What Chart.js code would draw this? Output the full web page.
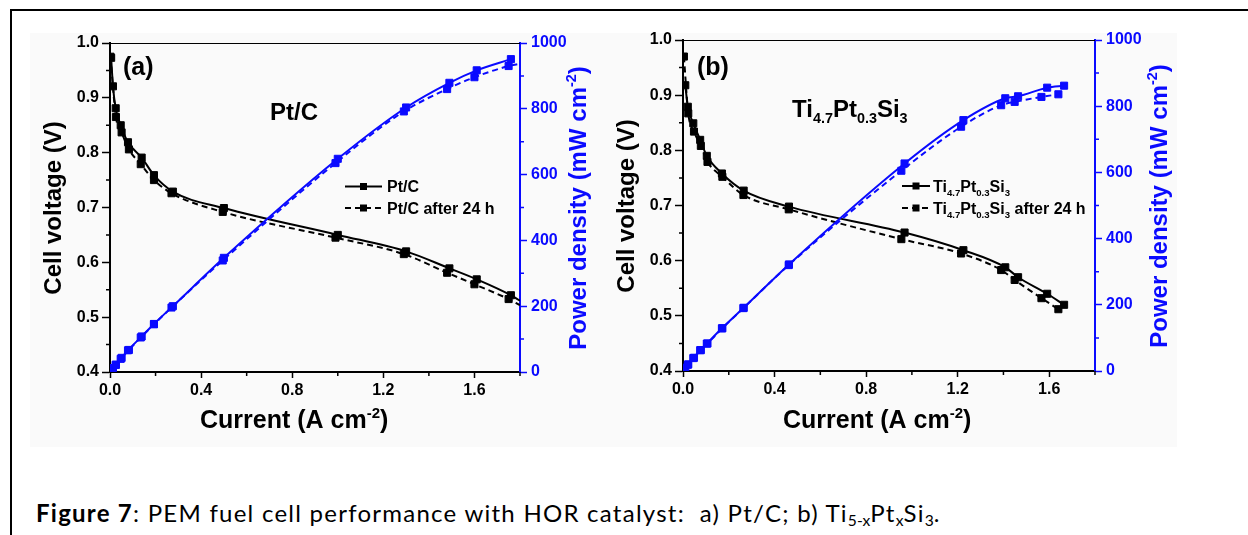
<!DOCTYPE html>
<html><head><meta charset="utf-8">
<script src="https://cdn.jsdelivr.net/npm/chart.js@4.4.1/dist/chart.umd.min.js"></script>
<style>
html,body{margin:0;padding:0;background:#fff;width:1248px;height:535px;overflow:hidden;position:relative}
#bg{position:absolute;left:30px;top:33px;width:1147px;height:414px;background:#fafafa}
#bt{position:absolute;left:10px;top:9px;width:1238px;height:2px;background:#000}
#bl{position:absolute;left:10px;top:9px;width:2px;height:526px;background:#000}
canvas{position:absolute;top:0}
#ca{left:0}
#cb{left:600px}
#cap{position:absolute;left:36px;top:498px;font-family:Lato,"Open Sans",sans-serif;font-size:24px;letter-spacing:1.25px;color:#000;white-space:nowrap}
#cap sub{font-size:65%;vertical-align:-0.25em;line-height:0;letter-spacing:0}
</style></head>
<body>
<div id="bg"></div><div id="bt"></div><div id="bl"></div>
<canvas id="ca" width="600" height="450"></canvas>
<canvas id="cb" width="648" height="450"></canvas>
<div id="cap"><b>Figure 7</b>: PEM fuel cell performance with HOR catalyst:&nbsp; a) Pt/C; b) Ti<sub>5-x</sub>Pt<sub>x</sub>Si<sub>3</sub>.</div>
<script>
// ---------- data ----------
const X_TICKS = [0.0, 0.4, 0.8, 1.2, 1.6];
const X_MINOR = [0.2, 0.6, 1.0, 1.4, 1.8];
const V_TICKS = [0.4, 0.5, 0.6, 0.7, 0.8, 0.9, 1.0];
const V_MINOR = [0.45, 0.55, 0.65, 0.75, 0.85, 0.95];
const P_TICKS = [0, 200, 400, 600, 800, 1000];
const P_MINOR = [100, 300, 500, 700, 900];

// Panel (a) Pt/C
const A_I_FRESH = [0.005, 0.013, 0.025, 0.047, 0.079, 0.139, 0.193, 0.276, 0.500, 1.000, 1.300, 1.490, 1.610, 1.760, 1.800];
const A_V_FRESH = [0.973, 0.921, 0.881, 0.850, 0.819, 0.791, 0.759, 0.729, 0.699, 0.650, 0.620, 0.589, 0.569, 0.540, 0.530];
const A_P_FRESH = [5, 12, 22, 40, 66, 108, 146, 200, 347, 648, 804, 879, 917, 951, null];
const A_I_AGED  = [0.002, 0.026, 0.051, 0.083, 0.135, 0.193, 0.270, 0.495, 0.990, 1.290, 1.480, 1.600, 1.750, 1.800];
const A_V_AGED  = [0.975, 0.865, 0.837, 0.806, 0.779, 0.750, 0.726, 0.692, 0.645, 0.615, 0.581, 0.560, 0.533, 0.522];
const A_P_AGED  = [2, 22, 43, 67, 105, 145, 196, 339, 635, 792, 860, 896, 930, 937];

// Panel (b) Ti4.7Pt0.3Si3
const B_I_FRESH = [0.010, 0.021, 0.045, 0.075, 0.104, 0.170, 0.265, 0.463, 0.968, 1.225, 1.408, 1.464, 1.591, 1.665];
const B_V_FRESH = [0.918, 0.879, 0.849, 0.819, 0.790, 0.758, 0.727, 0.698, 0.651, 0.619, 0.588, 0.570, 0.540, 0.520];
const B_P_FRESH = [10, 19, 39, 63, 83, 129, 191, 322, 627, 758, 824, 830, 856, 862];
const B_I_AGED  = [0.004, 0.023, 0.048, 0.078, 0.107, 0.172, 0.264, 0.462, 0.954, 1.215, 1.390, 1.449, 1.566, 1.640];
const B_V_AGED  = [0.970, 0.867, 0.834, 0.808, 0.779, 0.752, 0.719, 0.693, 0.639, 0.613, 0.583, 0.565, 0.532, 0.512];
const B_P_AGED  = [4, 20, 40, 63, 83, 129, 190, 320, 605, 738, 803, 813, 828, 836];

const X_MAX = 1.8;

// ---------- styling ----------
const FONT = '"Liberation Sans", Arial, sans-serif';
const BLUE = 'rgb(10,10,255)';
const BLACK = '#000';

function pts(xs, ys) { return xs.map((x, i) => ({ x: x, y: ys[i] })); }

function rich(ctx, parts, x, y, o) {
  const base = o.size;
  let w = 0;
  const segs = parts.map(p => {
    const f = p[1] || 1, d = p[2] || 0;
    ctx.font = 'bold ' + (base * f) + 'px ' + FONT;
    const m = ctx.measureText(p[0]).width;
    w += m;
    return { t: p[0], f: f, d: d, m: m };
  });
  ctx.save();
  ctx.translate(x, y);
  if (o.rot) ctx.rotate(o.rot);
  ctx.fillStyle = o.color || BLACK;
  ctx.textBaseline = 'alphabetic';
  let cx = o.align === 'center' ? -w / 2 : 0;
  segs.forEach(s => {
    ctx.font = 'bold ' + (base * s.f) + 'px ' + FONT;
    ctx.fillText(s.t, cx, s.d * base);
    cx += s.m;
  });
  ctx.restore();
}

function legendRow(ctx, x0, x1, y, dashed, parts, tx, ty) {
  ctx.save();
  ctx.strokeStyle = BLACK; ctx.lineWidth = 2;
  ctx.setLineDash(dashed ? [6, 4] : []);
  ctx.beginPath(); ctx.moveTo(x0, y); ctx.lineTo(x1, y); ctx.stroke();
  ctx.setLineDash([]);
  ctx.fillStyle = BLACK;
  const m = (x0 + x1) / 2;
  ctx.fillRect(m - 3.5, y - 3.5, 7, 7);
  ctx.restore();
  rich(ctx, parts, tx, ty, { size: 16 });
}

function makePanel(id, cfg) {
  const off = cfg.offset;
  const decor = {
    id: 'decor' + id,
    afterDraw(chart) {
      const ctx = chart.ctx;
      const a = chart.chartArea;
      const sx = chart.scales.x, sy = chart.scales.y, sp = chart.scales.y1;
      ctx.save();
      ctx.strokeStyle = BLACK; ctx.lineWidth = 1;
      ctx.beginPath(); ctx.moveTo(a.left, a.top + 0.5); ctx.lineTo(a.right, a.top + 0.5); ctx.stroke();
      ctx.lineWidth = 1.5;
      ctx.beginPath();
      X_MINOR.forEach(v => { const p = sx.getPixelForValue(v); ctx.moveTo(p, a.bottom); ctx.lineTo(p, a.bottom + 4); });
      V_MINOR.forEach(v => { const p = sy.getPixelForValue(v); ctx.moveTo(a.left, p); ctx.lineTo(a.left - 4, p); });
      ctx.stroke();
      ctx.strokeStyle = BLUE;
      ctx.beginPath();
      P_MINOR.forEach(v => { const p = sp.getPixelForValue(v); ctx.moveTo(a.right, p); ctx.lineTo(a.right + 4, p); });
      ctx.stroke();
      ctx.restore();
      rich(ctx, [['Cell voltage (V)']], cfg.vTitleX - off, cfg.titleY, { size: 24, rot: -Math.PI / 2, align: 'center' });
      rich(ctx, [['Power density (mW cm'], ['-2', 0.6, -0.42], [')']], cfg.pTitleX - off, cfg.titleY, { size: 24, rot: -Math.PI / 2, align: 'center', color: BLUE });
      rich(ctx, [['Current (A cm'], ['-2', 0.6, -0.42], [')']], cfg.xTitleX - off, 428, { size: 25 });
      rich(ctx, [[cfg.tag]], cfg.tagX - off, 75, { size: 25 });
      rich(ctx, cfg.name, cfg.nameX - off, cfg.nameY, { size: 24 });
      legendRow(ctx, cfg.legX0 - off, cfg.legX1 - off, cfg.legY1, false, cfg.leg1, cfg.legTX - off, cfg.legY1 + 5.5);
      legendRow(ctx, cfg.legX0 - off, cfg.legX1 - off, cfg.legY2, true, cfg.leg2, cfg.legTX - off, cfg.legY2 + 5.5);
    }
  };
  const mk = (v) => (v.raw && v.raw.x >= X_MAX ? 0 : 5);
  const ds = (data, axis, color, dashed) => ({
    data: data, yAxisID: axis, borderColor: color, backgroundColor: color,
    borderWidth: 2, borderDash: dashed ? [6, 4] : [], pointStyle: 'rect',
    pointRadius: mk, pointBorderWidth: 1, pointBorderColor: color, pointBackgroundColor: color,
    cubicInterpolationMode: 'monotone', fill: false, spanGaps: false
  });
  const tickFont = { family: FONT, size: 16, weight: 'bold' };
  return new Chart(document.getElementById(id), {
    type: 'line',
    data: {
      datasets: [
        ds(pts(cfg.I_F, cfg.P_F), 'y1', BLUE, false),
        ds(pts(cfg.I_A, cfg.P_A), 'y1', BLUE, true),
        ds(pts(cfg.I_F, cfg.V_F), 'y', BLACK, false),
        ds(pts(cfg.I_A, cfg.V_A), 'y', BLACK, true)
      ]
    },
    options: {
      responsive: false, animation: false, devicePixelRatio: 1, events: [],
      layout: { padding: { top: cfg.top, left: 0, right: 0, bottom: 0 } },
      plugins: { legend: { display: false }, tooltip: { enabled: false }, title: { display: false } },
      scales: {
        x: {
          type: 'linear', min: 0, max: X_MAX,
          afterBuildTicks: s => { s.ticks = X_TICKS.map(v => ({ value: v })); },
          afterFit: s => { s.height = cfg.xH; },
          ticks: { font: tickFont, color: BLACK, padding: 3, maxRotation: 0, autoSkip: false, callback: v => Number(v).toFixed(1) },
          grid: { drawOnChartArea: false, drawTicks: true, tickLength: 6, tickColor: BLACK, tickWidth: 1.5 },
          border: { display: true, color: BLACK, width: 2 }
        },
        y: {
          type: 'linear', position: 'left', min: 0.4, max: 1.0,
          afterBuildTicks: s => { s.ticks = V_TICKS.map(v => ({ value: v })); },
          afterFit: s => { s.width = cfg.yW; },
          ticks: { font: tickFont, color: BLACK, padding: 3, autoSkip: false, callback: v => Number(v).toFixed(1) },
          grid: { drawOnChartArea: false, drawTicks: true, tickLength: 8, tickColor: BLACK, tickWidth: 1.5 },
          border: { display: true, color: BLACK, width: 2 }
        },
        y1: {
          type: 'linear', position: 'right', min: 0, max: 1000,
          afterBuildTicks: s => { s.ticks = P_TICKS.map(v => ({ value: v })); },
          afterFit: s => { s.width = cfg.y1W; },
          ticks: { font: tickFont, color: BLUE, padding: 4, autoSkip: false, callback: v => String(v) },
          grid: { drawOnChartArea: false, drawTicks: true, tickLength: 7, tickColor: BLUE, tickWidth: 1.5 },
          border: { display: true, color: BLUE, width: 2 }
        }
      }
    },
    plugins: [decor]
  });
}

makePanel('ca', {
  offset: 0, top: 43, xH: 78, yW: 110, y1W: 80,
  I_F: A_I_FRESH, V_F: A_V_FRESH, P_F: A_P_FRESH,
  I_A: A_I_AGED, V_A: A_V_AGED, P_A: A_P_AGED,
  vTitleX: 61, pTitleX: 586, titleY: 208, xTitleX: 200,
  tag: '(a)', tagX: 123, name: [['Pt/C']], nameX: 270, nameY: 120,
  legX0: 345, legX1: 382, legTX: 387, legY1: 186.5, legY2: 208,
  leg1: [['Pt/C']], leg2: [['Pt/C after 24 h']]
});

makePanel('cb', {
  offset: 600, top: 40, xH: 79, yW: 83, y1W: 153,
  I_F: B_I_FRESH, V_F: B_V_FRESH, P_F: B_P_FRESH,
  I_A: B_I_AGED, V_A: B_V_AGED, P_A: B_P_AGED,
  vTitleX: 634, pTitleX: 1167, titleY: 206, xTitleX: 783,
  tag: '(b)', tagX: 697, name: [['Ti'], ['4.7', 0.6, 0.25], ['Pt'], ['0.3', 0.6, 0.25], ['Si'], ['3', 0.6, 0.25]], nameX: 792, nameY: 117,
  legX0: 902, legX1: 930, legTX: 933, legY1: 186, legY2: 208,
  leg1: [['Ti'], ['4.7', 0.6, 0.3], ['Pt'], ['0.3', 0.6, 0.3], ['Si'], ['3', 0.6, 0.3]],
  leg2: [['Ti'], ['4.7', 0.6, 0.3], ['Pt'], ['0.3', 0.6, 0.3], ['Si'], ['3', 0.6, 0.3], [' after 24 h']]
});
</script>
</body></html>
